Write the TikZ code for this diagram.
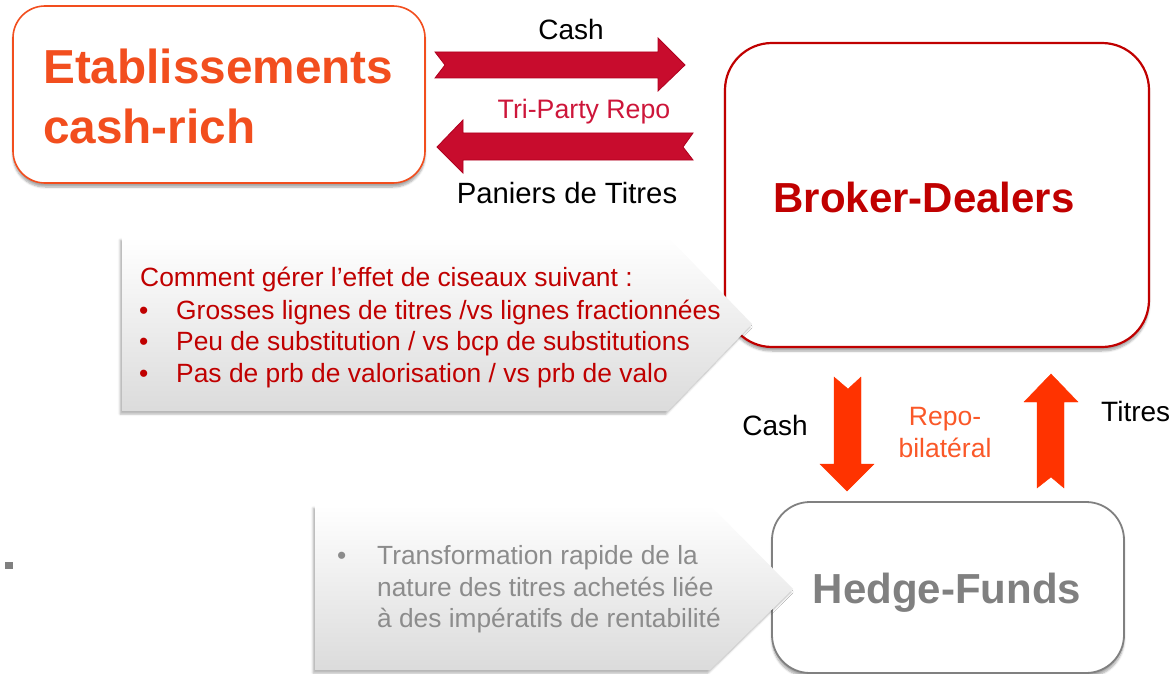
\documentclass[tikz,border=0pt]{standalone}
\usepackage{fontspec}
\setmainfont{Liberation Sans}
\usetikzlibrary{shadows.blur}
\definecolor{etabor}{RGB}{242,78,30}
\definecolor{brokred}{RGB}{192,0,0}
\definecolor{crimsonA}{RGB}{200,12,45}
\definecolor{crimsonB}{RGB}{175,0,30}
\definecolor{tripty}{RGB}{205,22,58}
\definecolor{orA}{RGB}{255,51,0}
\definecolor{repoT}{RGB}{250,88,40}
\definecolor{greyB}{RGB}{128,128,128}
\definecolor{greyT}{RGB}{140,140,140}
\tikzset{
  boxshadow/.style={blur shadow={shadow xshift=0pt, shadow yshift=-4pt, shadow blur steps=6, shadow opacity=35}},
  callshadow/.style={blur shadow={shadow xshift=-2pt, shadow yshift=-3pt, shadow blur steps=5, shadow opacity=30}},
  bigbox/.style={draw, fill=white, rounded corners=#1, inner sep=0pt, boxshadow},
  txt/.style={inner sep=0pt, anchor=base},
  txtw/.style={inner sep=0pt, anchor=base west},
  redarrow/.style={fill=crimsonA, draw=crimsonB, line width=0.8pt, line join=miter},
  orarrow/.style={fill=orA, draw=orA, line width=0.4pt},
  callout/.style={top color=white, bottom color=black!14, draw=none, callshadow}
}
\begin{document}
\begin{tikzpicture}[x=1pt,y=-1pt]
\useasboundingbox (0,0) rectangle (1175,674);

% main boxes
\node[bigbox=32pt, draw=etabor, line width=1.6pt, minimum width=412pt, minimum height=177pt] (etab) at (219,94.5) {};
\node[bigbox=47pt, draw=brokred, line width=2.2pt, minimum width=424pt, minimum height=304pt] (brok) at (937,195) {};
\node[bigbox=38pt, draw=greyB, line width=1.8pt, minimum width=352pt, minimum height=171pt] (hedge) at (948,587.5) {};

% box texts
\node[txtw, text=etabor, font=\fontsize{47.7}{56}\selectfont\bfseries] (etab1) at (43,84) {Etablissements};
\node[txtw, text=etabor, font=\fontsize{47.7}{56}\selectfont\bfseries] (etab2) at (43,143) {cash-rich};
\node[txt, text=brokred, font=\fontsize{42}{50}\selectfont\bfseries] (brokt) at (924,212) {Broker-Dealers};
\node[txt, text=greyB, font=\fontsize{42}{50}\selectfont\bfseries] (hedget) at (947,603) {Hedge-Funds};

% tri-party arrows
\path[redarrow] (435,52) -- (658,52) -- (658,38) -- (685,65) -- (658,91) -- (658,78) -- (435,78) -- (445,65) -- cycle;
\path[redarrow] (437,147) -- (463,120) -- (463,133) -- (693,133) -- (683,147) -- (693,160) -- (463,160) -- (463,173) -- cycle;

% labels top
\node[txt, font=\fontsize{28}{33}\selectfont] (cash1) at (571,40) {Cash};
\node[txt, text=tripty, font=\fontsize{26.7}{31}\selectfont] (tri) at (584,119) {Tri-Party Repo};
\node[txt, font=\fontsize{29.3}{34}\selectfont] (pan) at (567,203) {Paniers de Titres};

% bilateral arrows
\path[orarrow] (834,377) -- (848,389) -- (861,377) -- (861,464) -- (874,464) -- (847,491) -- (820,464) -- (834,464) -- cycle;
\path[orarrow] (1051,374) -- (1078,402) -- (1064,402) -- (1064,488) -- (1051,477) -- (1037,488) -- (1037,402) -- (1024,402) -- cycle;

\node[txt, font=\fontsize{28}{33}\selectfont] (cash2) at (775,435) {Cash};
\node[txt, text=repoT, font=\fontsize{26.5}{31}\selectfont] (repo1) at (945,425) {Repo-};
\node[txt, text=repoT, font=\fontsize{26.5}{31}\selectfont] (repo2) at (945,457) {bilatéral};
\node[txtw, font=\fontsize{28}{33}\selectfont] (titres) at (1101,421) {Titres};

% callout 1
\path[callout] (122,237) -- (668,237) -- (752,324) -- (668,411) -- (122,411) -- cycle;
\begin{scope}[every node/.style={txtw, text=brokred, font=\fontsize{26.4}{31}\selectfont}]
\node (c0) at (140,286) {Comment gérer l’effet de ciseaux suivant :};
\node (b1) at (139,319) {•};
\node (c1) at (176,319) {Grosses lignes de titres /vs lignes fractionnées};
\node (b2) at (139,350) {•};
\node (c2) at (176,350) {Peu de substitution / vs bcp de substitutions};
\node (b3) at (139,382) {•};
\node (c3) at (176,382) {Pas de prb de valorisation / vs prb de valo};
\end{scope}

% callout 2
\path[callout] (315,505) -- (710,505) -- (793,589) -- (710,670) -- (315,670) -- cycle;
\begin{scope}[every node/.style={txtw, text=greyT, font=\fontsize{26.3}{31}\selectfont}]
\node (d1b) at (337,564) {•};
\node (d1) at (377,564) {Transformation rapide de la};
\node (d2) at (377,596) {nature des titres achetés liée};
\node (d3) at (377,627) {à des impératifs de rentabilité};
\end{scope}

% stray mark
\fill[greyB] (5,562) rectangle (13,569);
\end{tikzpicture}
\end{document}
